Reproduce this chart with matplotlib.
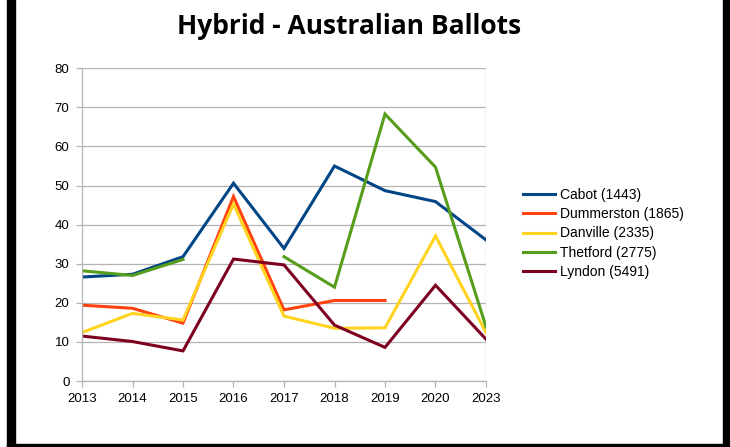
import numpy as np
import matplotlib
matplotlib.use("Agg")
import matplotlib.pyplot as plt
from matplotlib.patches import Rectangle
from matplotlib.lines import Line2D

years = ["2013", "2014", "2015", "2016", "2017", "2018", "2019", "2020", "2023"]
cabot = [26.6, 27.3, 31.8, 50.6, 33.9, 55.0, 48.7, 45.9, 36.1]
dummerston = [19.4, 18.6, 14.8, 47.2, 18.2, 20.6, 20.6, np.nan, np.nan]
danville = [12.4, 17.3, 15.6, 45.3, 16.6, 13.5, 13.6, 37.1, 12.4]
thetford = [28.2, 27.0, 31.1, np.nan, 31.8, 24.0, 68.3, 54.7, 13.9]
lyndon = [11.5, 10.1, 7.7, 31.2, 29.7, 14.3, 8.6, 24.5, 10.7]
series_names = ["Cabot (1443)", "Dummerston (1865)", "Danville (2335)", "Thetford (2775)", "Lyndon (5491)"]
series_values = [cabot, dummerston, danville, thetford, lyndon]
colors = ["#004586", "#ff420e", "#ffd320", "#579d1c", "#7e0021"]
yticks = [0, 10, 20, 30, 40, 50, 60, 70, 80]

W, H = 730, 447
fig = plt.figure(figsize=(W / 100, H / 100), dpi=100)
fig.patch.set_facecolor("white")

ax = fig.add_axes([82 / W, 1 - 381 / H, (486 - 82) / W, (381 - 68.3) / H])
x = np.arange(len(years))
for name, vals, c in zip(series_names, series_values, colors):
    ax.plot(x, vals, color=c, lw=2.2, label=name, solid_joinstyle="miter")

ax.set_xlim(0, len(years) - 1)
ax.set_ylim(0, 80)
ax.set_yticks(yticks)
ax.set_xticks(x)
ax.set_xticklabels(years)
ax.grid(axis="y", color="#b3b3b3", lw=0.9)
ax.set_axisbelow(True)
for s in ["top", "right"]:
    ax.spines[s].set_visible(False)
for s in ["left", "bottom"]:
    ax.spines[s].set_color("#b3b3b3")
    ax.spines[s].set_linewidth(0.9)
ax.axvline(len(years) - 1, color="#b3b3b3", lw=0.9, zorder=0)
ax.tick_params(axis="both", colors="#b3b3b3", length=4, width=0.9, labelsize=9.5,
               labelcolor="black")
ax.tick_params(axis="x", pad=5)
ax.tick_params(axis="y", pad=5)
for lbl in ax.get_xticklabels() + ax.get_yticklabels():
    lbl.set_fontfamily("Liberation Sans")

handles = [Line2D([0], [0], color=c, lw=2.2) for c in colors]
leg = fig.legend(handles, series_names, loc="center left",
                 bbox_to_anchor=(516 / W, 1 - 233.5 / H), frameon=False,
                 prop={"family": "Liberation Sans", "size": 10},
                 handlelength=2.3, handletextpad=0.35, labelspacing=0.38,
                 borderpad=0)

fig.text(349.5 / W, 1 - 34.3 / H, "Hybrid - Australian Ballots", ha="center", va="baseline",
         fontsize=19, fontweight="bold", family="Open Sans")

# frame
fig.patches.append(Rectangle((7 / W, 0), 8 / W, 1, transform=fig.transFigure,
                             color="black", zorder=10))
fig.patches.append(Rectangle((723 / W, 0), 7 / W, 1, transform=fig.transFigure,
                             color="black", zorder=10))
fig.patches.append(Rectangle((7 / W, 0), 723 / W, 3 / H, transform=fig.transFigure,
                             color="black", zorder=10))

fig.savefig("out.png", dpi=100)
